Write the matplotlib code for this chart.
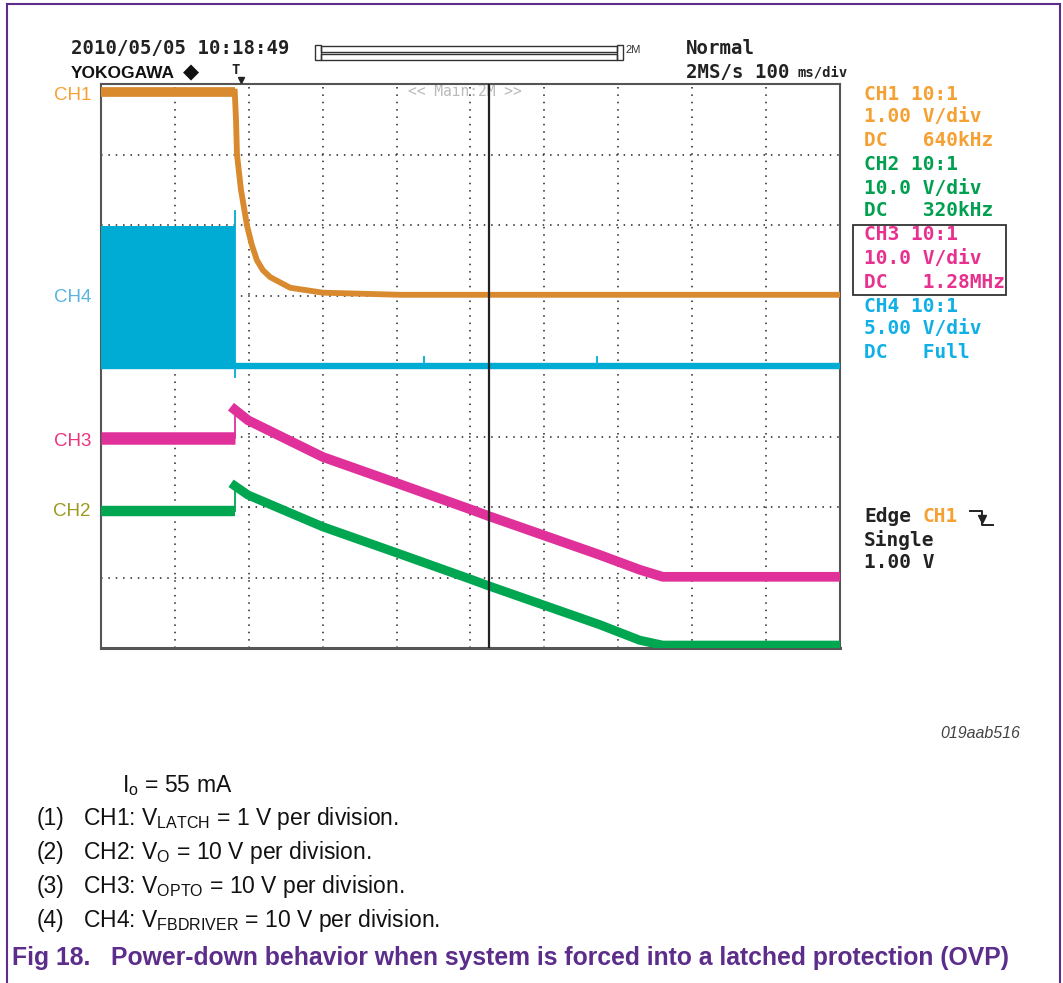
import numpy as np
import matplotlib
matplotlib.use('Agg')
import matplotlib.pyplot as plt
from matplotlib.lines import Line2D
from matplotlib.patches import Rectangle

plt.rcParams['lines.scale_dashes'] = False
plt.rcParams['mathtext.fontset'] = 'custom'
plt.rcParams['mathtext.rm'] = 'Liberation Sans'
plt.rcParams['mathtext.it'] = 'Liberation Sans:italic'
plt.rcParams['mathtext.bf'] = 'Liberation Sans:bold'

W, H = 1063, 983

# time in ms (100 ms/div, 10 div), level in divisions (0 = screen bottom, 8 = top)
t_trig = 181

ch1_pre_t = [0, 181]
ch1_pre_v = [7.89, 7.89]
ch1_t = [181, 182.7, 184, 189.4, 197.6, 204, 211, 219, 229, 256, 300, 405, 1000]
ch1_v = [7.89, 7.49, 7.0, 6.5, 5.99, 5.72, 5.50, 5.36, 5.26, 5.11, 5.04, 5.01, 5.01]

ch2_pre_t = [0, 181]
ch2_pre_v = [1.94, 1.94]
ch2_t = [181, 199, 300, 400, 499, 525, 675, 729, 760, 1000]
ch2_v = [2.30, 2.17, 1.72, 1.35, 0.98, 0.88, 0.33, 0.11, 0.04, 0.04]

ch3_pre_t = [0, 181]
ch3_pre_v = [2.98, 2.98]
ch3_t = [181, 199, 300, 400, 499, 525, 675, 729, 760, 1000]
ch3_v = [3.38, 3.23, 2.71, 2.34, 1.97, 1.87, 1.32, 1.11, 1.01, 1.01]

ch4_block_t = [0, 181]
ch4_block_lo = 3.97
ch4_block_hi = 5.99
ch4_base = 4.0
ch4_spike = [3.85, 6.2]
ch4_glitch_t = [437, 671]
ch4_glitch_top = 4.13

cursor_t = 525

c_ch1 = '#d98a2e'
c_ch2 = '#00a650'
c_ch3 = '#e0309a'
c_ch4 = '#00acd4'

lab_ch1 = '#f5a033'
lab_ch2 = '#00a050'
lab_ch3 = '#e8308f'
lab_ch4 = '#10b0e6'
purple = '#5c2d8a'

right_labels = [
    ('CH1 10:1', lab_ch1), ('1.00 V/div', lab_ch1), ('DC   640kHz', lab_ch1),
    ('CH2 10:1', lab_ch2), ('10.0 V/div', lab_ch2), ('DC   320kHz', lab_ch2),
    ('CH3 10:1', lab_ch3), ('10.0 V/div', lab_ch3), ('DC   1.28MHz', lab_ch3),
    ('CH4 10:1', lab_ch4), ('5.00 V/div', lab_ch4), ('DC   Full', lab_ch4),
]
right_y = [94, 117, 141, 164, 188, 211, 235, 258, 282, 306, 329, 353]

left_labels = [('CH1', 95, lab_ch1), ('CH4', 298, '#5ab4e0'),
               ('CH3', 441, '#e8347e'), ('CH2', 511, '#9c9a1e')]

notes = [
    ('(1)', r'CH1: V$_{\mathrm{LATCH}}$ = 1 V per division.'),
    ('(2)', r'CH2: V$_{\mathrm{O}}$ = 10 V per division.'),
    ('(3)', r'CH3: V$_{\mathrm{OPTO}}$ = 10 V per division.'),
    ('(4)', r'CH4: V$_{\mathrm{FBDRIVER}}$ = 10 V per division.'),
]
notes_y = [819, 853, 887, 921]

fig = plt.figure(figsize=(W / 100, H / 100), dpi=100)


def ft(x, y, s, **kw):
    kw.setdefault('va', 'center')
    return fig.text(x / W, 1 - y / H, s, **kw)


def fline(xs, ys, **kw):
    fig.add_artist(Line2D([x / W for x in xs], [1 - y / H for y in ys],
                          transform=fig.transFigure, **kw))


# page frame
fline([7, 7], [983, 4], color=purple, lw=1.5)
fline([7, 1060], [4, 4], color=purple, lw=1.5)
fline([1060, 1060], [4, 983], color=purple, lw=1.5)

# scope screen
ax = fig.add_axes([101 / W, 1 - 648 / H, 739 / W, 564 / H])
ax.set_xlim(0, 1000)
ax.set_ylim(0, 8)
ax.set_xticks([])
ax.set_yticks([])
for s in ax.spines.values():
    s.set_color('#555555')
    s.set_linewidth(1.5)
ax.spines['bottom'].set_linewidth(2.2)

for gx in range(100, 1000, 100):
    ax.axvline(gx, color='#333333', lw=1.2, ls=(0, (1.1, 4.2)), zorder=1)
for gy in range(1, 8):
    ax.axhline(gy, color='#333333', lw=1.2, ls=(0, (1.1, 4.2)), zorder=1)
ax.axvline(cursor_t, color='#222222', lw=1.6, zorder=6)

ax.text(492, 7.89, '<< Main:2M >>', color='#bbbbbb', fontsize=10.5,
        family='DejaVu Sans Mono', ha='center', va='center', zorder=2)

# CH4
ax.fill_between(ch4_block_t, ch4_block_lo, ch4_block_hi, color=c_ch4, lw=0, zorder=3)
ax.axhline(ch4_base, color=c_ch4, lw=4.6, zorder=3)
ax.plot([t_trig, t_trig], ch4_spike, color=c_ch4, lw=1.3, zorder=3)
for gt in ch4_glitch_t:
    ax.plot([gt, gt], [ch4_base, ch4_glitch_top], color=c_ch4, lw=1.3, zorder=3)

# CH1
ax.plot(ch1_pre_t, ch1_pre_v, color=c_ch1, lw=7, solid_capstyle='butt', zorder=4)
ax.plot(ch1_t, ch1_v, color=c_ch1, lw=4.2, solid_joinstyle='round', zorder=4)

# CH3
ax.plot(ch3_pre_t, ch3_pre_v, color=c_ch3, lw=9, solid_capstyle='butt', zorder=4)
ax.plot([t_trig, t_trig], [ch3_pre_v[-1], ch3_v[0]], color=c_ch3, lw=1.3, zorder=4)
ax.plot(ch3_t, ch3_v, color=c_ch3, lw=7, solid_joinstyle='round', zorder=4)

# CH2
ax.plot(ch2_pre_t, ch2_pre_v, color=c_ch2, lw=7.5, solid_capstyle='butt', zorder=4)
ax.plot([t_trig, t_trig], [ch2_pre_v[-1], ch2_v[0]], color=c_ch2, lw=1.3, zorder=4)
ax.plot(ch2_t, ch2_v, color=c_ch2, lw=6.5, solid_joinstyle='round', zorder=4)

# header
mono = 'DejaVu Sans Mono'
ft(71, 48, '2010/05/05 10:18:49', family=mono, weight='bold', fontsize=13.7, color='#222222')
ft(71, 73, 'YOKOGAWA', family='Liberation Sans', weight='bold', fontsize=12.5, color='#111111')
ft(183, 72, '\u25c6', family='DejaVu Sans', fontsize=15, color='#111111')
ft(686, 49, 'Normal', family=mono, weight='bold', fontsize=13.7, color='#222222')
ft(686, 72, '2MS/s 100', family=mono, weight='bold', fontsize=13.7, color='#222222')
ft(797, 72, 'ms/div', family=mono, weight='bold', fontsize=10, color='#222222')

# record length bar
fig.add_artist(Rectangle((315 / W, 1 - 60 / H), 6 / W, 15 / H, transform=fig.transFigure,
                         fill=False, ec='#333333', lw=1))
fig.add_artist(Rectangle((617 / W, 1 - 60 / H), 6 / W, 15 / H, transform=fig.transFigure,
                         fill=False, ec='#333333', lw=1))
fig.add_artist(Rectangle((321 / W, 1 - 52 / H), 296 / W, 6 / H, transform=fig.transFigure,
                         fill=False, ec='#333333', lw=1))
fig.add_artist(Rectangle((321 / W, 1 - 59.5 / H), 296 / W, 6 / H, transform=fig.transFigure,
                         fill=False, ec='#333333', lw=1))
ft(625, 50, '2M', family='Liberation Sans', fontsize=8, color='#333333')

# trigger position mark
ft(236, 70, 'T', family=mono, weight='bold', fontsize=10, color='#222222', ha='center')
fline([241], [80], marker='v', markersize=5, color='#222222', lw=0)

# channel labels left
for s, y, c in left_labels:
    ft(91, y, s, family='Liberation Sans', fontsize=13.5, color=c, ha='right')

# settings right
for (s, c), y in zip(right_labels, right_y):
    ft(864, y, s, family=mono, weight='bold', fontsize=14, color=c)
fig.add_artist(Rectangle((853 / W, 1 - 295 / H), 153 / W, 70 / H, transform=fig.transFigure,
                         fill=False, ec='#333333', lw=1.3))

ft(864, 517, 'Edge', family=mono, weight='bold', fontsize=14, color='#222222')
ft(923, 517, 'CH1', family=mono, weight='bold', fontsize=14, color=lab_ch1)
fline([970, 982, 982, 993], [511, 511, 525, 525], color='#222222', lw=1.4)
fline([982], [519], marker='v', markersize=6, color='#222222', lw=0)
ft(864, 540, 'Single', family=mono, weight='bold', fontsize=14, color='#222222')
ft(864, 563, '1.00 V', family=mono, weight='bold', fontsize=14, color='#222222')

ft(1020, 733, '019aab516', family='Liberation Sans', style='italic', fontsize=11.5,
   color='#444444', ha='right')

# notes
ft(122, 786, r'I$_{\mathrm{o}}$ = 55 mA', family='Liberation Sans', fontsize=16.5, color='#111111')
for (n, s), y in zip(notes, notes_y):
    ft(37, y, n, family='Liberation Sans', fontsize=16.5, color='#111111')
    ft(83, y, s, family='Liberation Sans', fontsize=16.5, color='#111111')

ft(12, 958, 'Fig 18.   Power-down behavior when system is forced into a latched protection (OVP)',
   family='Liberation Sans', weight='bold', fontsize=17.8, color=purple)

fig.savefig('out.png', dpi=100)
